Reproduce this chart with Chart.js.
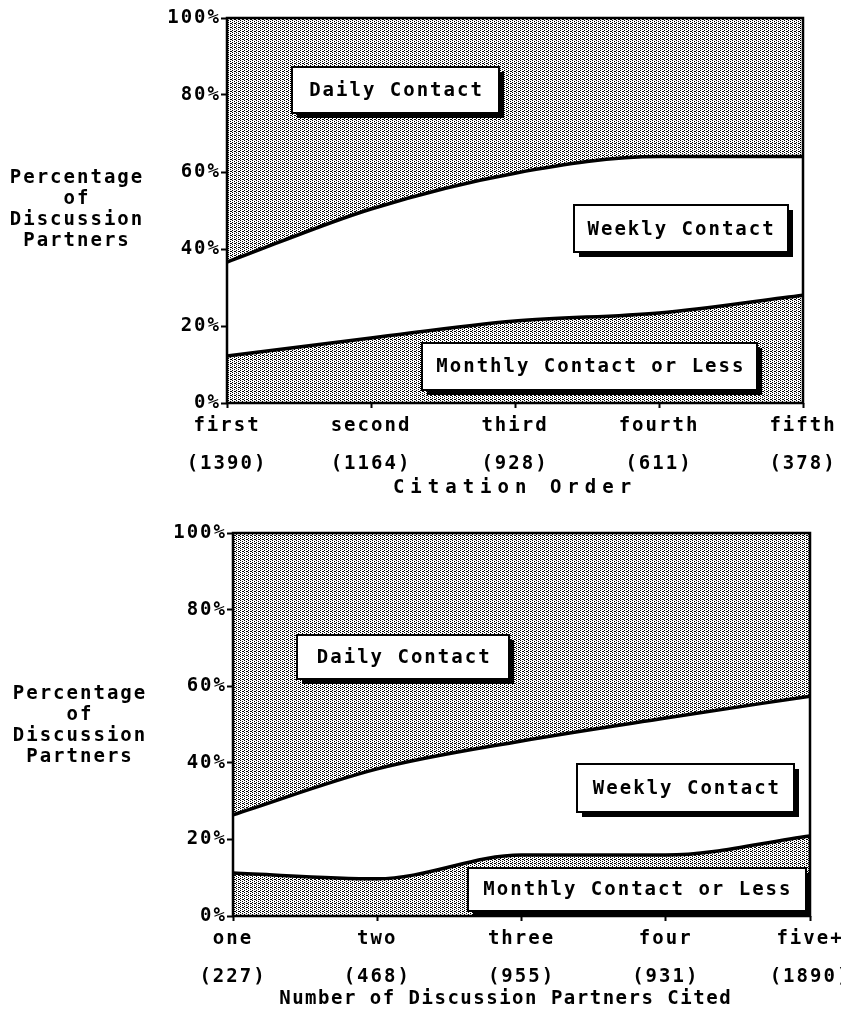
<!DOCTYPE html>
<html>
<head>
<meta charset="utf-8">
<script src="https://cdn.jsdelivr.net/npm/chart.js@4"></script>
<style>
  body { margin: 0; background: #fff; }
  canvas { display: block; }
</style>
</head>
<body>
<canvas id="chartTop" width="841" height="500"></canvas>
<canvas id="chartBottom" width="841" height="511"></canvas>
<script>
// top panel: by citation order
const orderCats = ["first", "second", "third", "fourth", "fifth"];
const orderCounts = ["(1390)", "(1164)", "(928)", "(611)", "(378)"];
const orderMonthly = [12.2, 16.9, 21.3, 23.4, 28];
const orderWeekly = [24.4, 33.5, 38.4, 40.6, 36];
const orderDaily = [63.4, 49.6, 40.3, 36, 36];

// bottom panel: by number of partners cited
const sizeCats = ["one", "two", "three", "four", "five+"];
const sizeCounts = ["(227)", "(468)", "(955)", "(931)", "(1890)"];
const sizeMonthly = [11.2, 9.7, 15.9, 15.9, 20.9];
const sizeWeekly = [15.2, 28.7, 29.8, 35.8, 36.5];
const sizeDaily = [73.6, 61.6, 54.3, 48.3, 42.6];

const yTicks = [0, 20, 40, 60, 80, 100];
const yTitle = ["Percentage", "of", "Discussion", "Partners"];

const FONT = 'bold 19px "DejaVu Sans Mono"';
const SPACING = '2px';

function stipple() {
  const c = document.createElement('canvas');
  c.width = 4; c.height = 4;
  const g = c.getContext('2d');
  g.fillStyle = '#fff';
  g.fillRect(0, 0, 4, 4);
  g.fillStyle = '#000';
  [[0,0],[2,1],[0,2],[3,3],[2,3]].forEach(p => g.fillRect(p[0], p[1], 1, 1));
  return g.createPattern(c, 'repeat');
}

const decor = {
  id: 'decor',
  beforeLayout(chart) { chart.ctx.letterSpacing = SPACING; },
  beforeDraw(chart) { chart.ctx.letterSpacing = SPACING; },
  afterDatasetsDraw(chart, args, opts) {
    const { ctx, chartArea: a, scales: { x, y } } = chart;
    ctx.save();
    ctx.letterSpacing = SPACING;
    ctx.strokeStyle = '#000';
    ctx.lineWidth = 2.5;
    ctx.strokeRect(a.left, a.top, a.right - a.left, a.bottom - a.top);

    ctx.font = FONT;
    ctx.textAlign = 'center';
    ctx.textBaseline = 'middle';
    for (const b of opts.boxes) {
      const cx = x.getPixelForValue(b.at[0]);
      const cy = y.getPixelForValue(b.at[1]);
      const l = Math.round(cx - b.w / 2), t = Math.round(cy - b.h / 2);
      ctx.fillStyle = '#000';
      ctx.fillRect(l + 5, t + 5, b.w, b.h);
      ctx.fillStyle = '#fff';
      ctx.fillRect(l, t, b.w, b.h);
      ctx.lineWidth = 2;
      ctx.strokeRect(l, t, b.w, b.h);
      ctx.fillStyle = '#000';
      ctx.fillText(b.text, cx + 1, cy + 1);
    }

    ctx.fillStyle = '#000';
    yTitle.forEach((s, i) => ctx.fillText(s, opts.yTitleX, a.top + opts.yTitleTop + i * 21));
    ctx.letterSpacing = opts.xTitleSpacing;
    ctx.fillText(opts.xTitle, x.getPixelForValue(opts.xTitleAt), a.bottom + opts.xTitleGap);
    ctx.restore();
  }
};

function build(id, cats, counts, monthly, weekly, daily, frame, deco) {
  const el = document.getElementById(id);
  const pat = stipple();
  return new Chart(el, {
    type: 'line',
    data: {
      labels: cats.map((c, i) => [c, counts[i]]),
      datasets: [
        { label: 'Monthly Contact or Less', data: monthly, fill: 'origin', backgroundColor: pat,
          borderColor: '#000', borderWidth: 3.5 },
        { label: 'Weekly Contact', data: weekly, fill: '-1', backgroundColor: '#fff',
          borderColor: '#000', borderWidth: 3.5 },
        { label: 'Daily Contact', data: daily, fill: '-1', backgroundColor: pat,
          borderColor: '#000', borderWidth: 0 }
      ]
    },
    options: {
      responsive: false,
      animation: false,
      devicePixelRatio: 1,
      layout: { padding: { top: frame.top, right: frame.right, left: 0, bottom: 0 } },
      elements: { point: { radius: 0 }, line: { cubicInterpolationMode: 'monotone' } },
      plugins: { legend: { display: false }, tooltip: { enabled: false }, decor: deco },
      scales: {
        x: {
          offset: false,
          grid: { drawOnChartArea: false, drawTicks: true, tickLength: 5, tickColor: '#000', tickWidth: 2 },
          border: { display: false },
          ticks: { color: '#000', font: { family: 'DejaVu Sans Mono', weight: 'bold', size: 19, lineHeight: 1.95 },
                   padding: 0, maxRotation: 0, autoSkip: false },
          afterFit(s) { s.height = frame.xHeight; s.paddingLeft = 0; s.paddingRight = 0; }
        },
        y: {
          stacked: true,
          min: 0, max: 100,
          afterBuildTicks(s) { s.ticks = yTicks.map(v => ({ value: v })); },
          grid: { drawOnChartArea: false, drawTicks: true, tickLength: 6, tickColor: '#000', tickWidth: 2 },
          border: { display: false },
          ticks: { color: '#000', font: { family: 'DejaVu Sans Mono', weight: 'bold', size: 19 },
                   padding: 0, callback: v => v + '%' },
          afterFit(s) { s.width = frame.yWidth; s.paddingTop = 0; s.paddingBottom = 0; }
        }
      }
    },
    plugins: [decor]
  });
}

build('chartTop', orderCats, orderCounts, orderMonthly, orderWeekly, orderDaily,
  { top: 18, right: 38, yWidth: 227, xHeight: 97 },
  {
    boxes: [
      { text: 'Daily Contact', at: [1.17, 81.3], w: 207, h: 46 },
      { text: 'Weekly Contact', at: [3.15, 45.3], w: 214, h: 47 },
      { text: 'Monthly Contact or Less', at: [2.52, 9.5], w: 335, h: 47 }
    ],
    yTitleX: 77, yTitleTop: 160,
    xTitle: 'Citation Order', xTitleAt: 2, xTitleGap: 85, xTitleSpacing: '6px'
  });

build('chartBottom', sizeCats, sizeCounts, sizeMonthly, sizeWeekly, sizeDaily,
  { top: 33, right: 31, yWidth: 233, xHeight: 95 },
  {
    boxes: [
      { text: 'Daily Contact', at: [1.18, 67.5], w: 212, h: 44 },
      { text: 'Weekly Contact', at: [3.14, 33.3], w: 217, h: 48 },
      { text: 'Monthly Contact or Less', at: [2.8, 7], w: 338, h: 43 }
    ],
    yTitleX: 80, yTitleTop: 161,
    xTitle: 'Number of Discussion Partners Cited', xTitleAt: 1.89, xTitleGap: 83, xTitleSpacing: '1.5px'
  });
</script>
</body>
</html>
